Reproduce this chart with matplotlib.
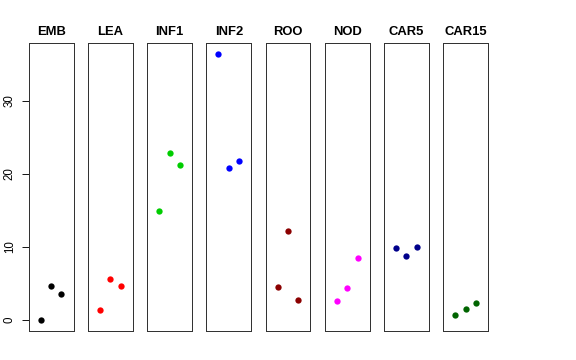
import matplotlib
matplotlib.use("Agg")
import matplotlib.pyplot as plt

plt.rcParams['font.family'] = ['Liberation Sans', 'DejaVu Sans']

panels = ["EMB", "LEA", "INF1", "INF2", "ROO", "NOD", "CAR5", "CAR15"]
colors = ["#000000", "#FF0000", "#00CD00", "#0000FF", "#8B0000", "#FF00FF", "#00008B", "#006400"]
x_pos = [1, 2, 3]
values = {
    "EMB":   [0.0, 4.6, 3.6],
    "LEA":   [1.4, 5.6, 4.7],
    "INF1":  [14.9, 22.9, 21.2],
    "INF2":  [36.4, 20.8, 21.7],
    "ROO":   [4.5, 12.2, 2.8],
    "NOD":   [2.6, 4.4, 8.5],
    "CAR5":  [9.9, 8.7, 10.0],
    "CAR15": [0.7, 1.5, 2.3],
}
yticks = [0, 10, 20, 30]

W, H = 576, 360
fig = plt.figure(figsize=(W / 72, H / 72), dpi=72)

allv = [v for k in panels for v in values[k]]
lo, hi = min(allv), max(allv)
ext = 0.04 * (hi - lo)
ylim = (lo - ext, hi + ext)
xlim = (0 - 0.16, 4 + 0.16)

left0 = 28.7
step = 59.23
pw = 44.8
top = 43.3
bottom = 330.7

for i, name in enumerate(panels):
    l = left0 + i * step
    ax = fig.add_axes([l / W, (H - bottom) / H, pw / W, (bottom - top) / H])
    ax.plot(x_pos, values[name], 'o', color=colors[i], markersize=6.3, markeredgewidth=0)
    ax.set_xlim(*xlim)
    ax.set_ylim(*ylim)
    ax.set_xticks([])
    for s in ax.spines.values():
        s.set_linewidth(1.0)
        s.set_color('#333333')
    ax.set_title(name, fontsize=13, fontweight='bold', pad=8)
    if i == 0:
        ax.set_yticks(yticks)
        ax.set_yticklabels([str(t) for t in yticks], rotation=90, va='center', fontsize=11.5)
        ax.tick_params(axis='y', length=7, width=0.9, pad=6)
    else:
        ax.set_yticks([])

fig.savefig("out.png", dpi=72)
